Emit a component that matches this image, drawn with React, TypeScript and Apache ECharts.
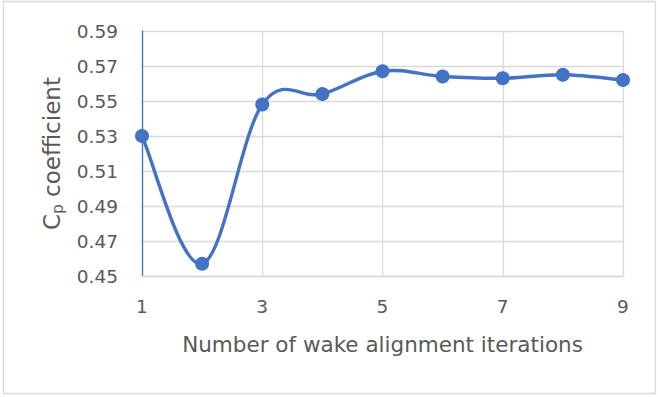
import React, { useEffect, useRef } from "react";
import * as echarts from "echarts";

const iterations = [1, 2, 3, 4, 5, 6, 7, 8, 9];
const cpValues = [0.530, 0.457, 0.548, 0.554, 0.567, 0.564, 0.563, 0.565, 0.562];
const yTicks = { min: 0.45, max: 0.59, interval: 0.02 };
const xTicks = { min: 1, max: 9, interval: 2 };

const FONT = "'DejaVu Sans', sans-serif";
const TEXT = "#595959";
const GRID = "#D9D9D9";
const BLUE = "#4472C4";
const TENSION = 0.18;

export default function App() {
  const ref = useRef<HTMLDivElement>(null);
  useEffect(() => {
    if (!ref.current) return;
    const chart = echarts.init(ref.current, undefined, { renderer: "svg" });
    const points = iterations.map((x, i) => [x, cpValues[i]]);
    const n = points.length;
    chart.setOption({
      animation: false,
      backgroundColor: "#ffffff",
      textStyle: { fontFamily: FONT },
      graphic: [
        {
          type: "rect",
          shape: { x: 3.5, y: 1.5, width: 652, height: 392 },
          style: { fill: "none", stroke: GRID, lineWidth: 1.3 },
          silent: true,
        },
      ],
      grid: { left: 142, right: 35, top: 31, bottom: 121, containLabel: false },
      xAxis: {
        type: "value",
        min: xTicks.min,
        max: xTicks.max,
        interval: xTicks.interval,
        name: "Number of wake alignment iterations",
        nameLocation: "middle",
        nameGap: 57,
        nameTextStyle: { color: TEXT, fontSize: 21.5, fontFamily: FONT },
        axisLine: { show: true, lineStyle: { color: GRID, width: 1.3 } },
        axisTick: { show: false },
        axisLabel: { color: TEXT, fontSize: 18.5, margin: 21, fontFamily: FONT },
        splitLine: { show: true, lineStyle: { color: GRID, width: 1.3 } },
      },
      yAxis: {
        type: "value",
        min: yTicks.min,
        max: yTicks.max,
        interval: yTicks.interval,
        name: "{c|C}{p|p}{c| coefficient}",
        nameLocation: "middle",
        nameGap: 48,
        nameRotate: 90,
        nameTextStyle: {
          color: TEXT,
          fontFamily: FONT,
          rich: {
            c: { fontSize: 23, color: TEXT, fontFamily: FONT, lineHeight: 30, verticalAlign: "middle" },
            p: { fontSize: 15, color: TEXT, fontFamily: FONT, lineHeight: 30, padding: [13, 0, 0, 0], verticalAlign: "middle" },
          },
        },
        axisLine: { show: true, lineStyle: { color: BLUE, width: 1.3 } },
        axisTick: { show: false },
        axisLabel: {
          color: TEXT,
          fontSize: 18.5,
          margin: 24,
          fontFamily: FONT,
          formatter: (v: number) => v.toFixed(2),
        },
        splitLine: { show: true, lineStyle: { color: GRID, width: 1.3 } },
      },
      series: [
        {
          type: "custom",
          coordinateSystem: "cartesian2d",
          data: points,
          encode: { x: 0, y: 1 },
          z: 4,
          silent: true,
          renderItem: (params: any, api: any) => {
            const i = params.dataIndex;
            if (i >= n - 1) return { type: "group", children: [] };
            const c = (k: number) => api.coord(points[Math.max(0, Math.min(n - 1, k))]);
            const p0 = c(i - 1);
            const p1 = c(i);
            const p2 = c(i + 1);
            const p3 = c(i + 2);
            return {
              type: "bezierCurve",
              shape: {
                x1: p1[0],
                y1: p1[1],
                x2: p2[0],
                y2: p2[1],
                cpx1: p1[0] + (p2[0] - p0[0]) * TENSION,
                cpy1: p1[1] + (p2[1] - p0[1]) * TENSION,
                cpx2: p2[0] - (p3[0] - p1[0]) * TENSION,
                cpy2: p2[1] - (p3[1] - p1[1]) * TENSION,
              },
              style: { stroke: BLUE, lineWidth: 3.4, fill: "none", lineCap: "round" },
            };
          },
        },
        {
          type: "scatter",
          data: points,
          symbol: "circle",
          symbolSize: 14,
          itemStyle: { color: BLUE, opacity: 1 },
          z: 5,
        },
      ],
    });
    return () => chart.dispose();
  }, []);
  return (
    <div
      ref={ref}
      style={{ position: "fixed", left: 0, top: 0, width: 658, height: 397 }}
    />
  );
}
